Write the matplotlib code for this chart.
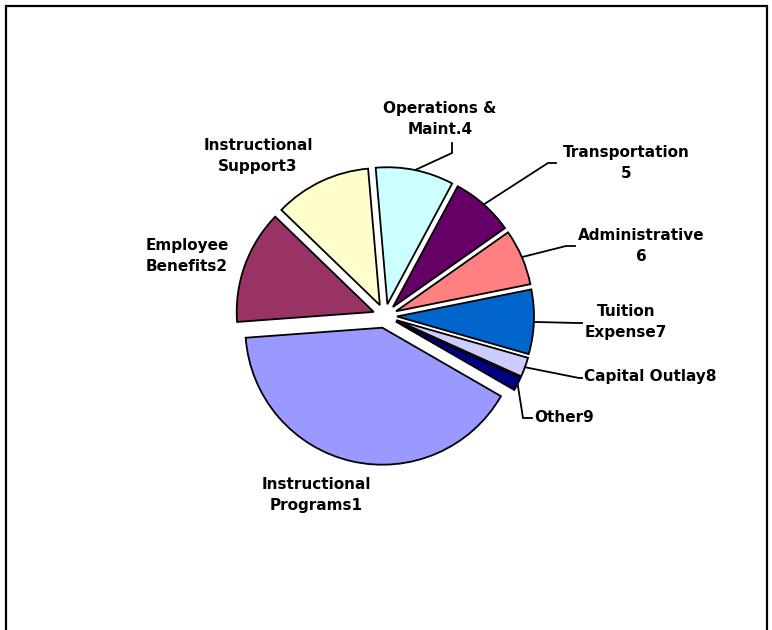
import math
import matplotlib
matplotlib.use("Agg")
import matplotlib.pyplot as plt
from matplotlib.patches import Rectangle

# ---------------------------------------------------------------------------
# Data (share of spending, %)
# ---------------------------------------------------------------------------
categories = [
    "Instructional\nPrograms1",
    "Employee\nBenefits2",
    "Instructional\nSupport3",
    "Operations &\nMaint.4",
    "Transportation\n5",
    "Administrative\n6",
    "Tuition\nExpense7",
    "Capital Outlay8",
    "Other9",
]
shares = [40.5, 13.4, 11.4, 9.2, 7.4, 6.6, 7.6, 2.3, 1.6]
colors = ["#9999FF", "#993366", "#FFFFCC", "#CCFFFF", "#660066",
          "#FF8080", "#0066CC", "#CCCCFF", "#000080"]

# ---------------------------------------------------------------------------
# Layout (pixels, origin top-left)
# ---------------------------------------------------------------------------
W, H = 772, 630
CX, CY, R = 385, 316, 137
EXPLODE_PX = 12

# label centre (or left edge for "left" aligned), alignment, leader (elbow, end)
label_layout = [
    ((316, 495), "center", None),
    ((187, 256), "center", None),
    ((258, 156), "center", None),
    ((440, 119), "center", ((452, 153), (452, 143))),
    ((626, 163), "center", ((548, 163), (556, 163))),
    ((641, 246), "center", ((566, 246), (575, 246))),
    ((626, 322), "center", ((577, 323), (582, 323))),
    ((584, 377), "left", ((579, 378), (582, 378))),
    ((534, 418), "left", ((523, 418), (532, 418))),
]


def px(x, y):
    """pixel position -> data coords (pie radius = 1)."""
    return (x - CX) / R, (CY - y) / R


fig = plt.figure(figsize=(W / 100, H / 100), dpi=100, facecolor="white")
ax = fig.add_axes([0, 0, 1, 1])

wedges, _ = ax.pie(
    shares,
    colors=colors,
    startangle=-30,
    counterclock=False,
    explode=[EXPLODE_PX / R] * len(shares),
    radius=1,
    wedgeprops=dict(edgecolor="black", linewidth=1.3),
)

ax.set_xlim(-CX / R, (W - CX) / R)
ax.set_ylim(-(H - CY) / R, CY / R)
ax.set_aspect("equal")
ax.axis("off")

font = dict(family="DejaVu Sans", weight="bold", size=11, color="black")

for w, text, (pos, align, leader) in zip(wedges, categories, label_layout):
    tx, ty = px(*pos)
    ax.text(tx, ty, text, ha=align, va="center", multialignment="center",
            linespacing=1.5, **font)
    if leader is not None:
        mid = math.radians((w.theta1 + w.theta2) / 2)
        sx = w.center[0] + w.r * math.cos(mid)
        sy = w.center[1] + w.r * math.sin(mid)
        (ex1, ey1), (ex2, ey2) = px(*leader[0]), px(*leader[1])
        ax.plot([sx, ex1, ex2], [sy, ey1, ey2], color="black", lw=1.3,
                solid_joinstyle="miter")

# chart area border (bottom runs off the image)
fig.patches.append(Rectangle((6 / W, -0.05), (767 - 6) / W, 1.05 - 6 / H,
                             transform=fig.transFigure, fill=False,
                             edgecolor="black", linewidth=1.6))

fig.savefig("out.png", dpi=100, facecolor="white")
